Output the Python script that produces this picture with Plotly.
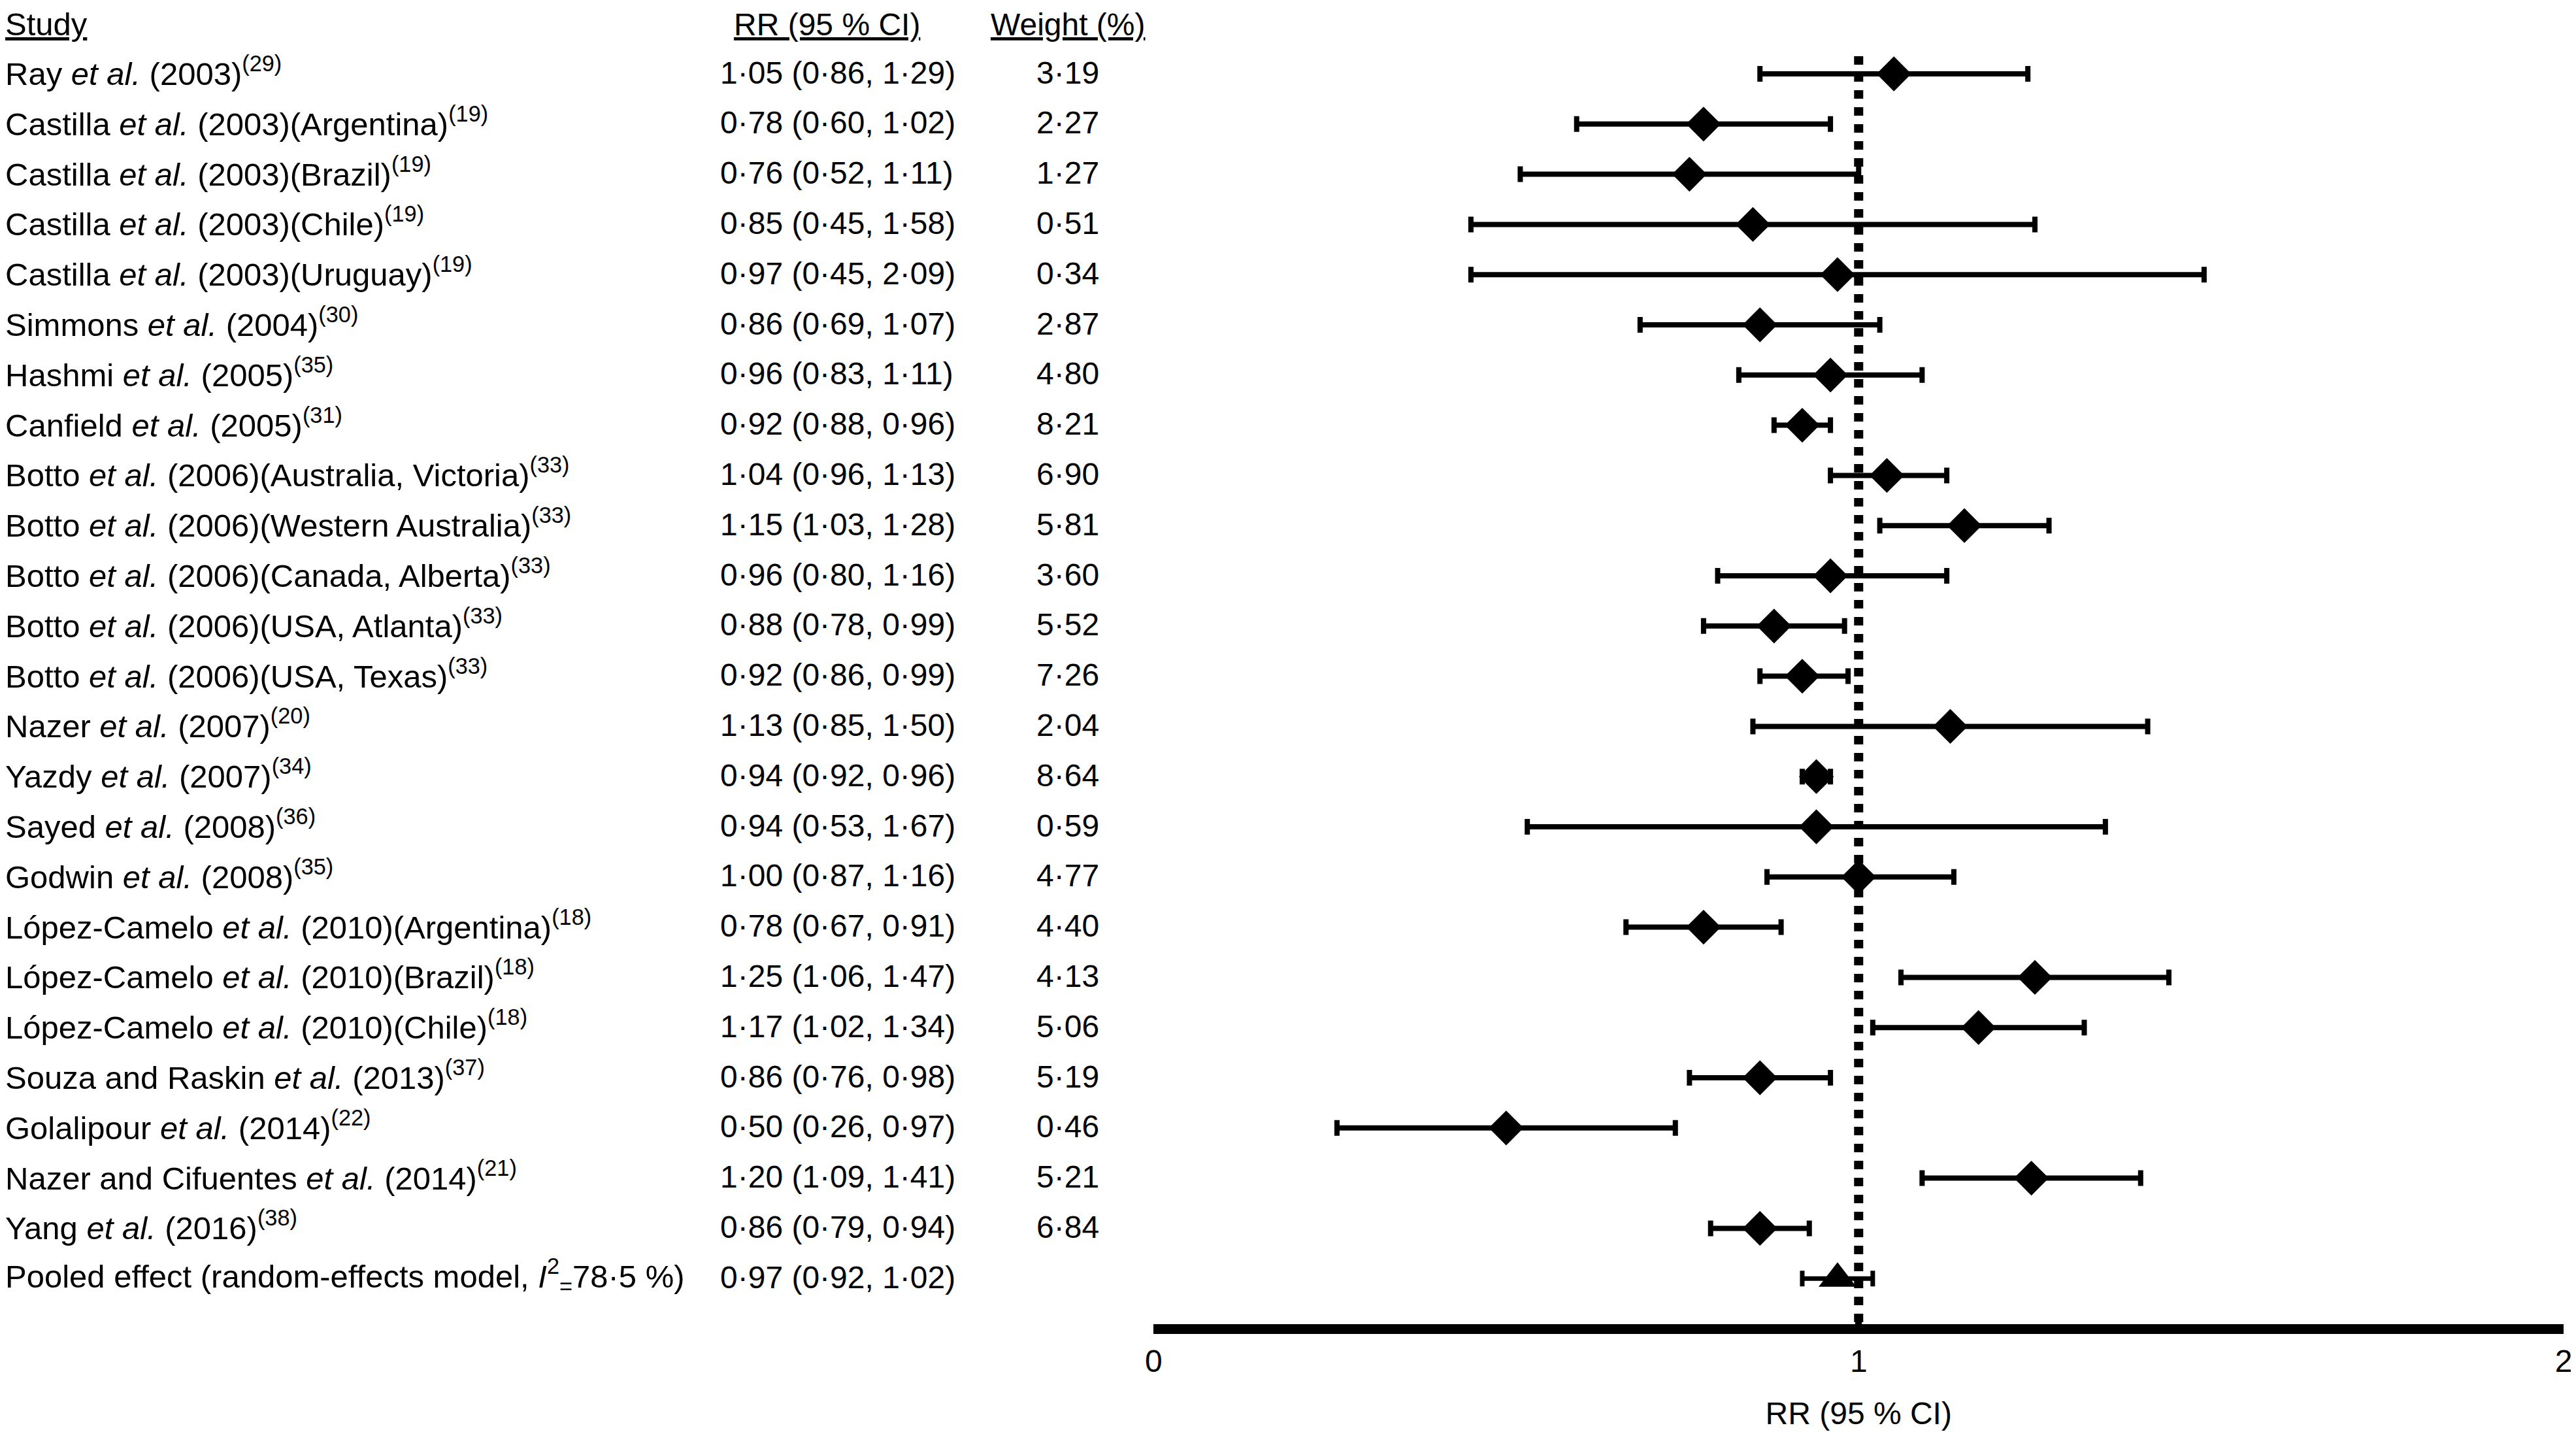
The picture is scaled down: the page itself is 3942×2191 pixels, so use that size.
import plotly.graph_objects as go

# ---------------- data ----------------
studies = [
    "Ray <i>et al.</i> (2003)<sup>(29)</sup>",
    "Castilla <i>et al.</i> (2003)(Argentina)<sup>(19)</sup>",
    "Castilla <i>et al.</i> (2003)(Brazil)<sup>(19)</sup>",
    "Castilla <i>et al.</i> (2003)(Chile)<sup>(19)</sup>",
    "Castilla <i>et al.</i> (2003)(Uruguay)<sup>(19)</sup>",
    "Simmons <i>et al.</i> (2004)<sup>(30)</sup>",
    "Hashmi <i>et al.</i> (2005)<sup>(35)</sup>",
    "Canfield <i>et al.</i> (2005)<sup>(31)</sup>",
    "Botto <i>et al.</i> (2006)(Australia, Victoria)<sup>(33)</sup>",
    "Botto <i>et al.</i> (2006)(Western Australia)<sup>(33)</sup>",
    "Botto <i>et al.</i> (2006)(Canada, Alberta)<sup>(33)</sup>",
    "Botto <i>et al.</i> (2006)(USA, Atlanta)<sup>(33)</sup>",
    "Botto <i>et al.</i> (2006)(USA, Texas)<sup>(33)</sup>",
    "Nazer <i>et al.</i> (2007)<sup>(20)</sup>",
    "Yazdy <i>et al.</i> (2007)<sup>(34)</sup>",
    "Sayed <i>et al.</i> (2008)<sup>(36)</sup>",
    "Godwin <i>et al.</i> (2008)<sup>(35)</sup>",
    "López-Camelo <i>et al.</i> (2010)(Argentina)<sup>(18)</sup>",
    "López-Camelo <i>et al.</i> (2010)(Brazil)<sup>(18)</sup>",
    "López-Camelo <i>et al.</i> (2010)(Chile)<sup>(18)</sup>",
    "Souza and Raskin <i>et al.</i> (2013)<sup>(37)</sup>",
    "Golalipour <i>et al.</i> (2014)<sup>(22)</sup>",
    "Nazer and Cifuentes <i>et al.</i> (2014)<sup>(21)</sup>",
    "Yang <i>et al.</i> (2016)<sup>(38)</sup>",
]

# values printed in the table columns
rr = [1.05, 0.78, 0.76, 0.85, 0.97, 0.86, 0.96, 0.92, 1.04, 1.15, 0.96, 0.88,
      0.92, 1.13, 0.94, 0.94, 1.00, 0.78, 1.25, 1.17, 0.86, 0.50, 1.20, 0.86]
ci_lo = [0.86, 0.60, 0.52, 0.45, 0.45, 0.69, 0.83, 0.88, 0.96, 1.03, 0.80, 0.78,
         0.86, 0.85, 0.92, 0.53, 0.87, 0.67, 1.06, 1.02, 0.76, 0.26, 1.09, 0.79]
ci_hi = [1.29, 1.02, 1.11, 1.58, 2.09, 1.07, 1.11, 0.96, 1.13, 1.28, 1.16, 0.99,
         0.99, 1.50, 0.96, 1.67, 1.16, 0.91, 1.47, 1.34, 0.98, 0.97, 1.41, 0.94]
weights = [3.19, 2.27, 1.27, 0.51, 0.34, 2.87, 4.80, 8.21, 6.90, 5.81, 3.60, 5.52,
           7.26, 2.04, 8.64, 0.59, 4.77, 4.40, 4.13, 5.06, 5.19, 0.46, 5.21, 6.84]

# positions of the marks as drawn in the original graphic
drawn_est = [1.05, 0.78, 0.76, 0.85, 0.97, 0.86, 0.96, 0.92, 1.04, 1.15, 0.96, 0.88,
             0.92, 1.13, 0.94, 0.94, 1.00, 0.78, 1.25, 1.17, 0.86, 0.50, 1.245, 0.86]
drawn_lo = [0.86, 0.60, 0.52, 0.45, 0.45, 0.69, 0.83, 0.88, 0.96, 1.03, 0.80, 0.78,
            0.86, 0.85, 0.92, 0.53, 0.87, 0.67, 1.06, 1.02, 0.76, 0.26, 1.09, 0.79]
drawn_hi = [1.24, 0.96, 1.00, 1.25, 1.49, 1.03, 1.09, 0.96, 1.125, 1.27, 1.125, 0.98,
            0.985, 1.41, 0.96, 1.35, 1.135, 0.89, 1.44, 1.32, 0.96, 0.74, 1.40, 0.93]

pooled_label = "Pooled effect (random-effects model, <i>I</i><sup>2</sup><sub>=</sub>78·5 %)"
pooled_rr = 0.97
pooled_lo = 0.92
pooled_hi = 1.02

header_labels = ["Study", "RR (95 % CI)", "Weight (%)"]
x_ticks = [0, 1, 2]
x_title = "RR (95 % CI)"

# ---------------- figure ----------------
W, H = 3942, 2191
FONT = "Liberation Sans, Arial, Helvetica, sans-serif"
FS = 48
FS_LAB = 49

def fmt(v):
    return f"{v:.2f}".replace(".", "·")

rows = list(range(len(studies)))
pooled_row = len(studies)

fig = go.Figure()

fig.add_trace(go.Scatter(
    x=drawn_est, y=rows, mode="markers",
    marker=dict(symbol="diamond", size=41, color="black", line=dict(width=0)),
    error_x=dict(type="data", symmetric=False,
                 array=[h - e for h, e in zip(drawn_hi, drawn_est)],
                 arrayminus=[e - l for e, l in zip(drawn_est, drawn_lo)],
                 color="black", thickness=8, width=12),
    showlegend=False, hoverinfo="skip",
))

fig.add_trace(go.Scatter(
    x=[pooled_rr], y=[pooled_row], mode="markers",
    marker=dict(symbol="triangle-up", size=50, color="black", line=dict(width=0)),
    error_x=dict(type="data", symmetric=False,
                 array=[pooled_hi - pooled_rr], arrayminus=[pooled_rr - pooled_lo],
                 color="black", thickness=7, width=12),
    showlegend=False, hoverinfo="skip",
))

x_left = 1756 / W
x_right = 3928 / W

# y mapping: row 0 at 105px, 76.8 px per row, plot area 0..2018 px
plot_h = 2018
row0_px = 105
row_px = 76.8
y_top = -row0_px / row_px
y_bot = y_top + plot_h / row_px

fig.add_shape(type="line", xref="x", yref="y", x0=1, x1=1, y0=-0.35, y1=y_bot,
              line=dict(color="black", width=14, dash="13px,13px"), layer="above")

annotations = []
col_rr_x = 1099 / W
col_w_x = 1636 / W

def ann(x, y, text, anchor, size=FS, yshift=0, xshift=0):
    annotations.append(dict(x=x, y=y, xref="paper", yref="y", text=text,
                            showarrow=False, xanchor=anchor, yanchor="middle",
                            align=anchor if anchor != "center" else "center",
                            yshift=yshift, xshift=xshift, borderpad=0,
                            font=dict(family=FONT, size=size, color="black")))

LAB_DX = -14
COL_DX = -12
LAB_DY = 4     # positive = up
COL_DY = 2
HEAD_DY = -1

# headers
ann(0, -1, f"<u>{header_labels[0]}</u>", "left", size=FS_LAB, yshift=HEAD_DY, xshift=LAB_DX)
ann(1265 / W, -1, f"<u>{header_labels[1]}</u>", "center", yshift=HEAD_DY, xshift=COL_DX)
ann(col_w_x, -1, f"<u>{header_labels[2]}</u>", "center", yshift=HEAD_DY, xshift=COL_DX)

for i, s in enumerate(studies):
    ann(0, i, s, "left", size=FS_LAB, yshift=LAB_DY, xshift=LAB_DX)
    ann(col_rr_x, i, f"{fmt(rr[i])} ({fmt(ci_lo[i])}, {fmt(ci_hi[i])})", "left",
        yshift=COL_DY, xshift=COL_DX)
    ann(col_w_x, i, fmt(weights[i]), "center", yshift=COL_DY, xshift=COL_DX)

ann(0, pooled_row, pooled_label, "left", size=FS_LAB, yshift=LAB_DY, xshift=LAB_DX)
ann(col_rr_x, pooled_row, f"{fmt(pooled_rr)} ({fmt(pooled_lo)}, {fmt(pooled_hi)})",
    "left", yshift=COL_DY, xshift=COL_DX)

fig.update_layout(
    width=W, height=H,
    margin=dict(l=0, r=0, t=0, b=H - plot_h),
    paper_bgcolor="white", plot_bgcolor="white",
    annotations=annotations,
    font=dict(family=FONT, size=FS, color="black"),
    xaxis=dict(domain=[x_left, x_right], range=[0, 2], tickvals=x_ticks,
               ticktext=[str(t) for t in x_ticks],
               showline=True, linewidth=15, linecolor="black",
               ticks="inside", ticklen=12, tickwidth=10, tickcolor="black",
               showgrid=False, zeroline=False,
               tickfont=dict(family=FONT, size=FS, color="black"),
               title=dict(text=x_title, font=dict(family=FONT, size=FS, color="black"),
                          standoff=44)),
    yaxis=dict(range=[y_bot, y_top], visible=False, showgrid=False, zeroline=False),
)

fig.write_html("out.html")
